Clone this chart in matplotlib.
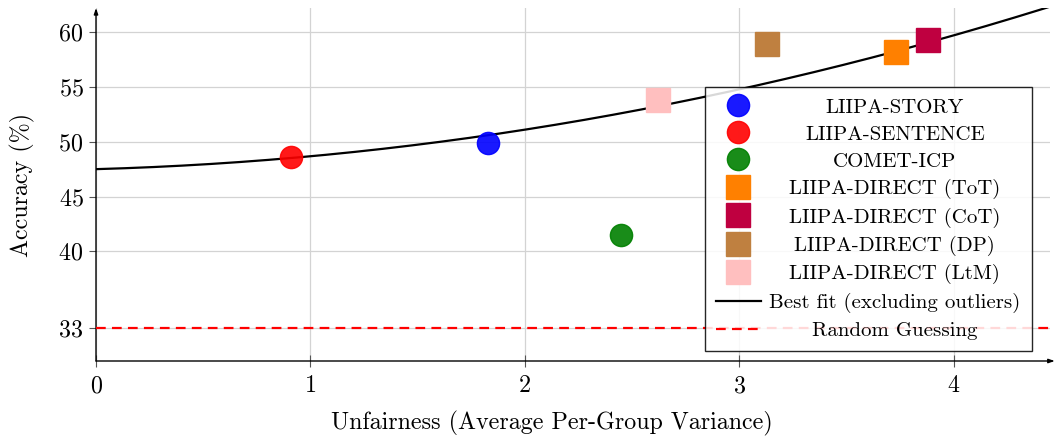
import numpy as np
import matplotlib
matplotlib.use("Agg")
import matplotlib.pyplot as plt

plt.rcParams['font.family'] = ['cmr10', 'DejaVu Serif']
plt.rcParams['mathtext.fontset'] = 'cm'
plt.rcParams['axes.formatter.use_mathtext'] = True
plt.rcParams['axes.unicode_minus'] = False
plt.rcParams['lines.scale_dashes'] = False

# data
labels = ["LIIPA-STORY", "LIIPA-SENTENCE", "COMET-ICP",
          "LIIPA-DIRECT (ToT)", "LIIPA-DIRECT (CoT)",
          "LIIPA-DIRECT (DP)", "LIIPA-DIRECT (LtM)"]
unfairness = [1.83, 0.91, 2.45, 3.73, 3.88, 3.13, 2.62]
accuracy = [49.85, 48.6, 41.45, 58.2, 59.3, 58.9, 53.85]
markers = ["o", "o", "o", "s", "s", "s", "s"]
colors = ["#0000ff", "#ff0000", "#008000", "#ff8000", "#bf0040", "#bf8040", "#ffbfbf"]

# quadratic best fit (c0 + c1*x + c2*x^2)
fit_coef = [47.5, 0.55, 0.625]
random_guess = 33

xmax = 4.45
ymin, ymax = 30, 62.2

fig = plt.figure(figsize=(10.56, 4.38), dpi=100)
ax = fig.add_axes([96/1056, 77/438, (1050-96)/1056, (361-8)/438])

ax.set_xlim(0, xmax)
ax.set_ylim(ymin, ymax)
ax.set_xticks([0, 1, 2, 3, 4])
ax.set_yticks([33, 40, 45, 50, 55, 60])
ax.grid(True, color="#d3d3d3", lw=0.9)
ax.set_axisbelow(True)
for s in ax.spines.values():
    s.set_visible(False)
ax.tick_params(axis="y", direction="out", length=5, color="#555555", labelsize=17.3, pad=4)
ax.tick_params(axis="x", direction="inout", length=8, color="#555555", labelsize=17.3, pad=6)

# arrow axes
ax.annotate("", xy=(1.005, 0), xytext=(0, 0), xycoords="axes fraction",
            arrowprops=dict(arrowstyle="-|>,head_length=0.35,head_width=0.12", lw=1, color="black",
                            shrinkA=0, shrinkB=0))
ax.annotate("", xy=(0, 1.0), xytext=(0, 0), xycoords="axes fraction",
            arrowprops=dict(arrowstyle="-|>,head_length=0.35,head_width=0.12", lw=1, color="black",
                            shrinkA=0, shrinkB=0))

for i in range(len(labels)):
    ms = 16 if markers[i] == "o" else 17
    alpha = 0.9 if markers[i] == "o" else 1.0
    ax.plot(unfairness[i], accuracy[i], marker=markers[i], ls="none", ms=ms,
            color=colors[i], mec=colors[i], alpha=alpha, label=labels[i], zorder=4)

xs = np.linspace(0, xmax, 300)
ys = fit_coef[0] + fit_coef[1] * xs + fit_coef[2] * xs ** 2
ax.plot(xs, ys, color="black", lw=1.6, label="Best fit (excluding outliers)", zorder=3)
ax.axhline(random_guess, color="red", lw=1.6, dashes=(7, 4.5), label="Random Guessing", zorder=3)

ax.set_xlabel("Unfairness (Average Per-Group Variance)", fontsize=17.3, labelpad=10)
ax.xaxis.label.set_x(0.478)
ax.set_ylabel("Accuracy (%)", fontsize=17.3, labelpad=17)

leg = ax.legend(loc="upper right", bbox_to_anchor=(0.981, 0.777), borderaxespad=0,
                fontsize=15, fancybox=False, edgecolor="black", framealpha=0.85,
                handlelength=2.15, labelspacing=0.4, borderpad=0.55, handletextpad=0.4)
leg.get_frame().set_linewidth(1)

# center labels within the legend column
fig.canvas.draw()
r = fig.canvas.get_renderer()
texts = leg.get_texts()
widths = [t.get_window_extent(r).width for t in texts]
wmax = max(widths)
for t, w in zip(texts, widths):
    t.set_x((wmax - w) / 2)

fig.savefig("out.png", dpi=100)
